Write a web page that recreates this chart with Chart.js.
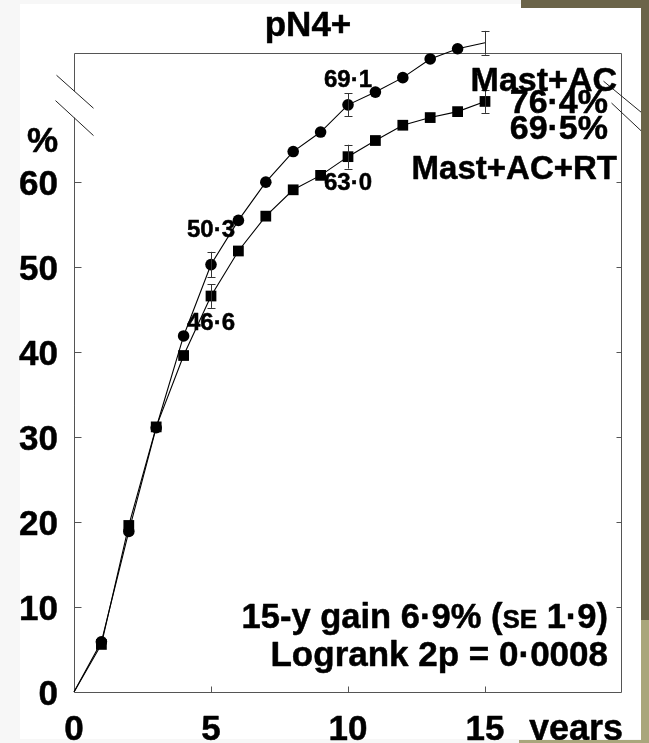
<!DOCTYPE html>
<html>
<head>
<meta charset="utf-8">
<script src="https://cdn.jsdelivr.net/npm/chart.js@4/dist/chart.umd.min.js"></script>
<style>
html,body{margin:0;padding:0;background:#fff;}
canvas{display:block;}
</style>
</head>
<body>
<canvas id="c" width="649" height="743"></canvas>
<script>
// ---- data ----
const years = [0, 1, 2, 3, 4, 5, 6, 7, 8, 9, 10, 11, 12, 13, 14, 15];
const mastAC = [0, 5.9, 18.9, 31.1, 41.9, 50.3, 55.5, 60.0, 63.6, 65.9, 69.1, 70.6, 72.3, 74.5, 75.7, 76.4];
const mastACRT = [0, 5.6, 19.6, 31.2, 39.6, 46.6, 51.9, 56.0, 59.1, 60.8, 63.0, 64.9, 66.7, 67.6, 68.3, 69.5];
const errYears = [5, 10, 15];
const mastACErr = [1.5, 1.35, 1.4];
const mastACRTErr = [1.4, 1.4, 1.35];
const xTickValues = [0, 5, 10, 15];
const xTickLabels = ['0', '5', '10', '15'];
const yTickValues = [0, 10, 20, 30, 40, 50, 60];
const yTickLabels = ['0', '10', '20', '30', '40', '50', '60'];
const seriesNames = ['Mast+AC', 'Mast+AC+RT'];
const endLabels = ['76·4%', '69·5%'];
const pointLabels = ['50·3', '46·6', '69·1', '63·0'];
const titleText = 'pN4+';
const xUnit = 'years';
const yUnit = '%';

const FONT = '"Liberation Sans", Arial, Helvetica, sans-serif';

function setFont(ctx, size) { ctx.font = 'bold ' + size + 'px ' + FONT; }

function paint(ctx, s) {
  ctx.fillStyle = '#000';
  ctx.strokeStyle = '#000';
  ctx.lineWidth = 0.5;
  ctx.lineJoin = 'round';
  ctx.fillText(s, 0, 0);
  ctx.strokeText(s, 0, 0);
}

function txt(ctx, s, x, yc, size, sx, align) {
  ctx.save();
  setFont(ctx, size);
  ctx.translate(x, yc + 0.358 * size);
  ctx.scale(sx, 1);
  ctx.textAlign = align;
  ctx.textBaseline = 'alphabetic';
  paint(ctx, s);
  ctx.restore();
}

function txtParts(ctx, parts, xRight, yc, sx) {
  const base = yc + 0.358 * parts[0][1];
  let total = 0;
  parts.forEach(p => { setFont(ctx, p[1]); total += ctx.measureText(p[0]).width; });
  let x = xRight - total * sx;
  parts.forEach(p => {
    ctx.save();
    setFont(ctx, p[1]);
    const w = ctx.measureText(p[0]).width;
    ctx.translate(x, base);
    ctx.scale(sx, 1);
    ctx.textAlign = 'left';
    ctx.textBaseline = 'alphabetic';
    paint(ctx, p[0]);
    ctx.restore();
    x += w * sx;
  });
}

function line(ctx, x1, y1, x2, y2) {
  ctx.beginPath(); ctx.moveTo(x1, y1); ctx.lineTo(x2, y2); ctx.stroke();
}

const decor = {
  id: 'decor',
  beforeDraw(chart) {
    const ctx = chart.ctx;
    ctx.save();
    ctx.fillStyle = '#f7f7f7';
    ctx.fillRect(0, 0, 20, 743);
    ctx.fillRect(0, 0, 649, 4);
    ctx.fillRect(0, 739, 649, 4);
    ctx.restore();
  },
  beforeDatasetsDraw(chart) {
    const ctx = chart.ctx;
    const a = chart.chartArea;
    const xs = chart.scales.x, ys = chart.scales.y;
    const L = Math.round(a.left) + 0.5, R = Math.round(a.right) - 0.5;
    const T = Math.round(a.top) + 0.5, B = Math.round(a.bottom) + 0.5;
    ctx.save();
    ctx.strokeStyle = '#555';
    ctx.lineWidth = 1;
    const gapTop = ys.getPixelForValue(70.7), gapBot = ys.getPixelForValue(67.6);
    line(ctx, L, T, R, T);
    line(ctx, L, T, L, gapTop);
    line(ctx, L, gapBot, L, B);
    line(ctx, L, B, R, B);
    line(ctx, R, T, R, B);
    yTickValues.forEach(v => {
      if (v === 0) return;
      const py = Math.round(ys.getPixelForValue(v)) + 0.5;
      line(ctx, L, py, L + 7, py);
      line(ctx, R, py, R - 5, py);
    });
    xTickValues.forEach(v => {
      if (v === 0) return;
      const px = Math.round(xs.getPixelForValue(v)) + 0.5;
      line(ctx, px, B, px, B - 6);
    });
    // axis break marks
    ctx.strokeStyle = '#222';
    const d1 = ys.getPixelForValue(70.7), d2 = ys.getPixelForValue(67.6);
    line(ctx, L - 18, d1 - 16, L + 19, d1 + 17);
    line(ctx, L - 19, d2 - 17, L + 19, d2 + 18);
    const r1 = ys.getPixelForValue(70.0), r2 = ys.getPixelForValue(67.9);
    line(ctx, R - 18, r1 - 16, R + 22, r1 + 17);
    line(ctx, R - 10, r2 - 12, R + 22, r2 + 18);
    ctx.restore();
  },
  afterDatasetsDraw(chart) {
    const ctx = chart.ctx;
    const a = chart.chartArea;
    const xs = chart.scales.x, ys = chart.scales.y;
    ctx.save();
    ctx.strokeStyle = '#333';
    ctx.lineWidth = 1;
    [[mastAC, mastACErr], [mastACRT, mastACRTErr]].forEach(([vals, errs]) => {
      errYears.forEach((yr, i) => {
        const v = vals[years.indexOf(yr)];
        const px = Math.round(xs.getPixelForValue(yr)) + 0.5;
        const top = ys.getPixelForValue(v + errs[i]);
        const bot = ys.getPixelForValue(v - errs[i]);
        line(ctx, px, top, px, bot);
        line(ctx, px - 4, Math.round(top) + 0.5, px + 4, Math.round(top) + 0.5);
        line(ctx, px - 4, Math.round(bot) + 0.5, px + 4, Math.round(bot) + 0.5);
      });
    });
    ctx.restore();

    // tick labels
    yTickValues.forEach((v, i) => txt(ctx, yTickLabels[i], a.left - 16, ys.getPixelForValue(v), 35, 1, 'right'));
    xTickValues.forEach((v, i) => txt(ctx, xTickLabels[i], xs.getPixelForValue(v), 727, 35, 1, 'center'));
    txt(ctx, xUnit, a.right + 1, 727, 36, 1, 'right');
    txt(ctx, yUnit, a.left - 16, ys.getPixelForValue(65), 35, 1, 'right');
    // title
    txt(ctx, titleText, 308, 23, 35, 1, 'center');
    // point labels
    txt(ctx, pointLabels[0], xs.getPixelForValue(5), ys.getPixelForValue(54.6), 24, 1, 'center');
    txt(ctx, pointLabels[1], xs.getPixelForValue(5), ys.getPixelForValue(43.6), 24, 1, 'center');
    txt(ctx, pointLabels[2], xs.getPixelForValue(10), ys.getPixelForValue(72.2), 24, 1, 'center');
    txt(ctx, pointLabels[3], xs.getPixelForValue(10), ys.getPixelForValue(60.1), 24, 1, 'center');
    // series labels
    txt(ctx, seriesNames[0], a.right - 5, 79, 34, 1, 'right');
    txt(ctx, endLabels[0], a.right - 14, 101, 34, 1, 'right');
    txt(ctx, endLabels[1], a.right - 14, 127, 34, 1, 'right');
    txt(ctx, seriesNames[1], a.right - 5, 167, 33, 1, 'right');
    // stats
    txtParts(ctx, [['15-y gain 6·9% (', 34.5], ['SE', 26], [' 1·9)', 34.5]], a.right - 14, 616, 1);
    txtParts(ctx, [['Logrank 2p = 0·0008', 35]], a.right - 14, 653, 1);
  },
  afterDraw(chart) {
    const ctx = chart.ctx;
    ctx.save();
    ctx.fillStyle = '#6b6449';
    ctx.fillRect(521, 0, 128, 8);
    ctx.fillRect(641, 0, 8, 620);
    ctx.fillStyle = '#a9a67c';
    ctx.fillRect(641, 620, 8, 123);
    ctx.fillRect(519, 740, 130, 3);
    ctx.restore();
  }
};

const circleRadius = years.map(y => (y === 0 ? 0 : 5.8));
const squareRadius = years.map(y => (y === 0 ? 0 : 7.6));

new Chart(document.getElementById('c'), {
  type: 'line',
  data: {
    datasets: [
      {
        label: seriesNames[0],
        data: years.map((x, i) => ({ x: x, y: mastAC[i] })),
        borderColor: '#000', borderWidth: 1.1, tension: 0, fill: false,
        pointStyle: 'circle', pointRadius: circleRadius, pointBackgroundColor: '#000',
        pointBorderColor: '#000', pointBorderWidth: 0, clip: false
      },
      {
        label: seriesNames[1],
        data: years.map((x, i) => ({ x: x, y: mastACRT[i] })),
        borderColor: '#000', borderWidth: 1.1, tension: 0, fill: false,
        pointStyle: 'rect', pointRadius: squareRadius, pointBackgroundColor: '#000',
        pointBorderColor: '#000', pointBorderWidth: 0, clip: false
      }
    ]
  },
  options: {
    responsive: false,
    animation: false,
    devicePixelRatio: 1,
    layout: { padding: { top: 53, right: 27, left: 0, bottom: 0 } },
    plugins: { legend: { display: false }, title: { display: false }, tooltip: { enabled: false } },
    scales: {
      x: {
        type: 'linear', min: 0, max: 20,
        grid: { display: false }, border: { display: false },
        ticks: { display: false },
        afterBuildTicks: s => { s.ticks = xTickValues.map(v => ({ value: v })); },
        afterFit: s => { s.height = 51; }
      },
      y: {
        type: 'linear', min: 0, max: 75.2,
        grid: { display: false }, border: { display: false },
        ticks: { display: false },
        afterBuildTicks: s => { s.ticks = yTickValues.map(v => ({ value: v })); },
        afterFit: s => { s.width = 74; }
      }
    }
  },
  plugins: [decor]
});
</script>
</body>
</html>
